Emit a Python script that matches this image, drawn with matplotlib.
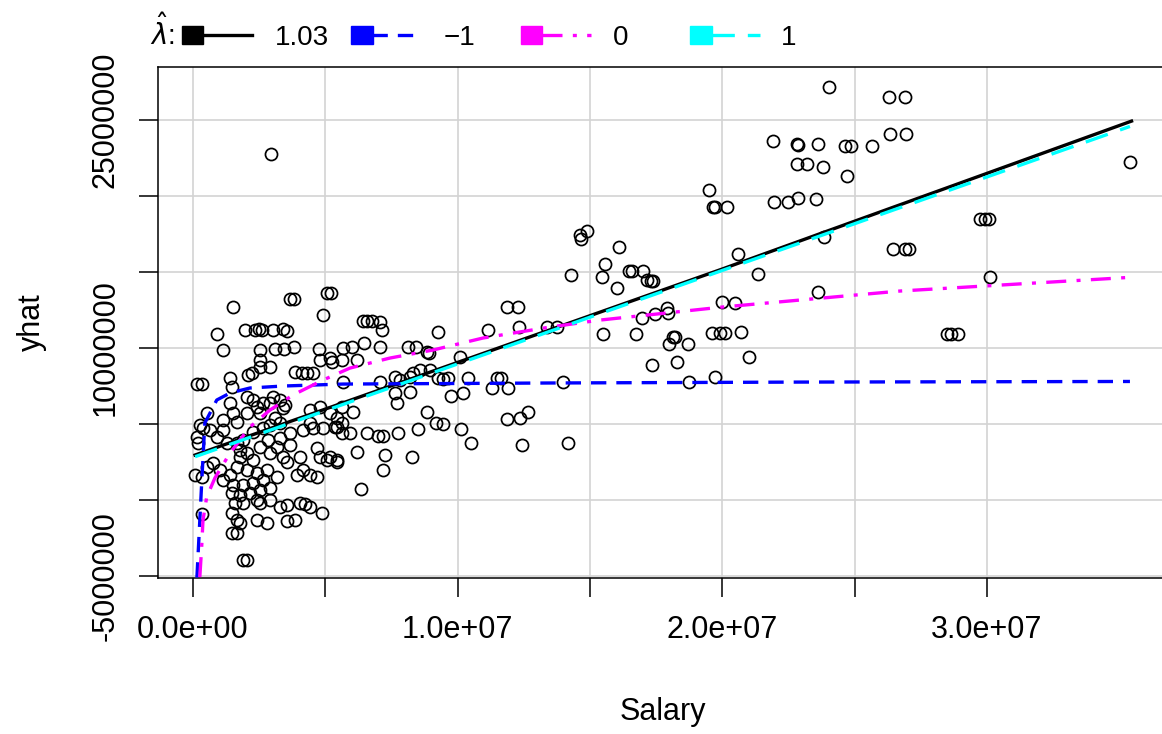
import matplotlib
matplotlib.use('Agg')
import matplotlib.pyplot as plt
from matplotlib.lines import Line2D
from matplotlib.patches import Rectangle
from matplotlib.ticker import FixedLocator, FuncFormatter
import numpy as np

plt.rcParams['font.family'] = ['Liberation Sans', 'DejaVu Sans']

salary = [
    24.02, 26.28, 26.91, 26.33, 26.94, 21.92, 22.81, 22.87, 23.62, 24.63, 24.85, 25.65,
    22.81, 23.19, 23.79, 24.70, 19.51, 19.66, 19.72, 20.19, 21.95, 22.49, 22.87, 23.53,
    23.84, 26.46, 26.90, 27.05, 16.11, 15.57, 15.44, 16.48, 16.57, 16.99, 17.16, 17.29,
    17.39, 16.01, 20.60, 21.36, 23.62, 17.90, 17.96, 17.45, 16.95, 19.97, 20.48, 15.50,
    16.74, 18.15, 18.21, 17.99, 18.69, 19.60, 19.91, 20.10, 20.70, 21.02, 17.35, 18.27,
    19.72, 18.74, 28.47, 28.64, 28.90, 35.40, 29.73, 29.92, 30.08, 30.11,
    14.87, 14.62, 14.65, 14.27, 11.85, 12.29, 12.33, 11.15, 9.27, 13.36, 13.76,
    6.43, 6.58, 6.75, 7.06, 7.13, 6.47, 7.06, 5.68, 6.00, 5.18, 5.62, 6.18, 5.24,
    8.11, 8.42, 8.83, 8.93, 10.09, 8.58, 8.32, 8.95, 7.63, 7.82, 8.20, 7.06, 9.27,
    9.46, 9.65, 10.40, 11.47, 11.62, 11.28, 11.89, 13.99, 10.21, 9.74, 8.20, 7.63,
    7.70, 5.66, 5.62, 6.06, 8.83, 9.18, 9.46, 12.67, 12.35, 11.85, 10.11, 10.49,
    12.44, 14.18, 8.49, 7.76, 7.19, 7.00, 6.56, 5.93, 5.62, 5.36, 5.62, 6.18, 7.25,
    8.26, 7.19, 5.43, 5.18, 6.35,
    2.94, 1.52, 0.92, 1.14, 1.96, 2.34, 2.50, 2.60, 3.03, 3.41, 3.56, 3.66, 3.82,
    5.05, 5.20, 4.90, 2.53, 3.10, 3.45, 3.82, 4.77, 2.53, 4.80,
    0.14, 0.33, 1.40, 1.46, 2.09, 2.22, 2.53, 2.91, 3.85, 4.11, 4.30, 4.55, 1.40,
    1.52, 1.14, 1.65, 2.03, 2.41, 2.66, 2.91, 3.41, 3.10, 0.52, 0.26, 0.14, 0.39,
    0.64, 0.20, 4.42, 4.80, 5.18, 5.43, 4.42, 4.55, 4.92, 5.43, 4.17, 3.66, 3.29,
    2.84, 2.53, 2.03, 1.78, 2.28, 2.91, 3.41, 3.54, 4.04, 4.67, 4.80, 5.05, 5.43,
    4.17, 3.92, 4.42, 4.67, 1.65, 2.03, 2.41, 2.78, 3.16, 1.40, 1.02, 0.77, 0.52,
    0.08, 0.33, 1.14, 1.52, 1.90, 2.28, 2.66, 1.46, 1.78, 2.15, 2.53, 2.91, 1.59,
    1.90, 2.41, 2.53, 2.91, 3.29, 3.54, 4.04, 4.23, 4.86, 0.33, 1.46, 1.65, 1.78,
    2.41, 2.78, 3.54, 1.46, 1.65, 1.90, 2.03, 1.14, 0.90, 1.27, 1.65, 1.78, 3.16,
    3.66, 2.28, 2.66, 2.91, 3.29, 2.53, 3.03, 3.29, 3.48, 2.03, 2.28, 1.90, 3.85,
    4.42,
]
yhat = [
    27.19, 26.53, 26.53, 24.08, 24.08, 23.64, 23.42, 23.36, 23.40, 23.31, 23.31, 23.29,
    22.11, 22.11, 21.89, 21.34, 20.39, 19.26, 19.26, 19.26, 19.63, 19.59, 19.85, 19.80,
    17.32, 16.49, 16.49, 16.49, 16.62, 15.51, 14.69, 15.09, 15.09, 15.09, 14.47, 14.43,
    14.43, 13.93, 16.16, 14.87, 13.66, 12.61, 12.32, 12.22, 11.99, 13.05, 12.98, 10.90,
    10.90, 10.74, 10.74, 10.24, 10.24, 11.01, 11.01, 11.01, 11.03, 9.39, 8.88, 9.06,
    8.11, 7.78, 10.92, 10.92, 10.92, 22.22, 18.47, 18.47, 18.47, 14.69,
    17.72, 17.43, 17.15, 14.80, 12.68, 12.68, 11.40, 11.18, 11.07, 11.40, 11.36,
    11.80, 11.80, 11.80, 11.73, 11.18, 10.31, 10.09, 9.98, 10.09, 9.32, 9.21, 9.21, 9.10,
    10.09, 10.09, 9.76, 9.69, 9.43, 8.55, 8.34, 8.55, 8.11, 7.89, 8.11, 7.78, 8.01,
    7.96, 8.01, 8.01, 8.01, 8.01, 7.35, 7.35, 7.74, 7.06, 6.84, 7.13, 7.02,
    6.40, 7.78, 6.14, 5.77, 5.81, 5.05, 5.00, 5.77, 5.38, 5.33, 4.65, 3.73,
    3.62, 3.77, 4.65, 4.43, 4.21, 4.21, 4.39, 4.39, 4.39, 4.82, 5.05, 3.18, 2.96,
    2.85, 1.97, 2.63, 2.85, 0.72,
    22.74, 12.68, 10.92, 9.87, 11.18, 11.18, 11.23, 11.18, 11.18, 11.23, 11.14, 13.20, 13.20,
    13.64, 13.64, 12.17, 9.87, 9.91, 9.91, 10.09, 9.91, 9.21, 9.21,
    7.63, 7.63, 8.01, 7.45, 8.22, 8.34, 8.77, 8.73, 8.44, 8.38, 8.38, 8.34, 6.36,
    5.70, 5.26, 5.15, 5.70, 6.14, 6.36, 6.36, 6.03, 5.38, 5.70, 4.93, 4.16, 4.72,
    4.61, 3.73, 5.92, 6.14, 5.70, 5.38, 5.05, 4.72, 4.72, 4.82, 4.61, 4.39, 4.06,
    3.95, 3.51, 3.07, 2.85, 2.63, 3.07, 2.85, 2.52, 2.85, 3.40, 2.85, 2.63, 2.52,
    1.97, 1.64, 1.64, 1.53, 2.19, 1.97, 1.76, 1.97, 1.53, 1.64, 1.97, 2.41, 2.19,
    1.64, 1.53, 1.32, 0.99, 0.99, 1.10, 1.32, 0.44, 0.33, 0.44, 0.66, 0.77, -0.22,
    -0.22, 0.00, -0.22, 0.00, -0.44, -0.33, -0.22, -0.26, -0.88, -0.94, -0.88, -1.32, -1.53,
    -1.32, -1.53, -1.36, -2.19, -2.19, -3.95, -3.95, 4.61, 4.16, 3.73, 3.73, 3.29, 3.51,
    3.62, 4.49, 4.72, 4.93, 5.05, 5.70, 6.80, 6.58, 6.25, 6.80, 6.58, 3.95, -1.32,
    -0.44,
]

# fitted curves for each lambda, in millions
fit_103_x = [0.08, 20.0, 35.46]
fit_103_y = [2.96, 15.2, 24.93]
fit_m1_x = [0.15, 0.26, 0.33, 0.45, 0.90, 1.40, 2.15, 3.40, 5.67, 13.49, 22.93, 35.40]
fit_m1_y = [-5.10, -1.32, 1.12, 5.07, 6.58, 7.04, 7.37, 7.50, 7.63, 7.70, 7.76, 7.80]
fit_0_x = [0.26, 0.33, 0.38, 0.52, 0.83, 1.40, 2.15, 2.91, 3.78, 4.91, 5.93, 7.44,
           9.07, 10.96, 13.49, 15.38, 20.02, 26.71, 35.40]
fit_0_y = [-5.07, -3.09, -1.32, 0.20, 1.45, 3.09, 4.80, 5.92, 6.91, 7.89, 8.68, 9.34,
           9.87, 10.66, 11.38, 11.84, 12.70, 13.75, 14.65]
fit_1_x = [0.08, 35.40]
fit_1_y = [2.85, 24.58]

lam_labels = ['1.03', '\u22121', '0', '1']
lam_colors = ['black', 'blue', 'magenta', 'cyan']

salary = np.array(salary) * 1e6
yhat = np.array(yhat) * 1e6

lw = 2.4
dashes = [None, (4.6, 3.0), (6.0, 3.1, 1.2, 3.1), (7.0, 3.9)]

W, H = 1162, 734
fig = plt.figure(figsize=(W / 100, H / 100), dpi=100)
ax = fig.add_axes([158 / W, (H - 578) / H, (1167 - 158) / W, 511 / H])

ax.plot(salary, yhat, 'o', mfc='none', mec='black', ms=8.7, mew=1.25, zorder=3)

curves = [(fit_103_x, fit_103_y), (fit_m1_x, fit_m1_y), (fit_0_x, fit_0_y), (fit_1_x, fit_1_y)]
for (cx, cy), col, d in zip(curves, lam_colors, dashes):
    line, = ax.plot(np.array(cx) * 1e6, np.array(cy) * 1e6, color=col, lw=lw, zorder=4)
    if d is not None:
        line.set_dashes(d)

ax.set_xlim(-1.32e6, 36.80e6)
ax.set_ylim(-5.13e6, 28.49e6)

ax.xaxis.set_major_locator(FixedLocator(np.arange(0, 3.01e7, 5e6)))
ax.yaxis.set_major_locator(FixedLocator(np.arange(-5e6, 2.51e7, 5e6)))
ax.xaxis.set_major_formatter(FuncFormatter(
    lambda v, p: f'{v:.1e}' if round(v / 5e6) % 2 == 0 else ''))
ax.yaxis.set_major_formatter(FuncFormatter(
    lambda v, p: f'{int(round(v))}' if round(v / 5e6) % 3 == 2 else ''))

ax.grid(True, color='#d3d3d3', lw=1.2)
ax.set_axisbelow(True)
ax.tick_params(length=14, width=1.1, pad=13, labelsize=22, colors='black')
ax.tick_params(axis='y', labelrotation=90)
for t in ax.get_yticklabels():
    t.set_va('center')
for s in ax.spines.values():
    s.set_linewidth(1.1)

ax.set_xlabel('Salary', fontsize=22)
ax.set_ylabel('yhat', fontsize=22)
ax.xaxis.set_label_coords(0.5, -0.232)
ax.yaxis.set_label_coords(-0.11, 0.5)

# legend across the top, drawn in figure pixels
def fx(x):
    return x / W

def fy(y):
    return 1 - y / H

fig.text(fx(150), fy(45), r'$\hat{\lambda}$:', fontsize=20, va='baseline')
for i, (lab, col, d) in enumerate(zip(lam_labels, lam_colors, dashes)):
    x0 = 181.7 + i * 169.5
    fig.patches.append(Rectangle((fx(x0), fy(44)), fx(21.5), 18 / H, color=col,
                                 transform=fig.transFigure, figure=fig))
    ln = Line2D([fx(x0 + 21), fx(x0 + 70)], [fy(35), fy(35)], color=col, lw=lw,
                transform=fig.transFigure, figure=fig)
    if d is not None:
        ln.set_dashes(d)
    fig.lines.append(ln)
    tx = [275, 444, 613, 781][i]
    fig.text(fx(tx), fy(45), lab, fontsize=20, va='baseline')

fig.savefig('out.png', dpi=100)
plt.close(fig)
